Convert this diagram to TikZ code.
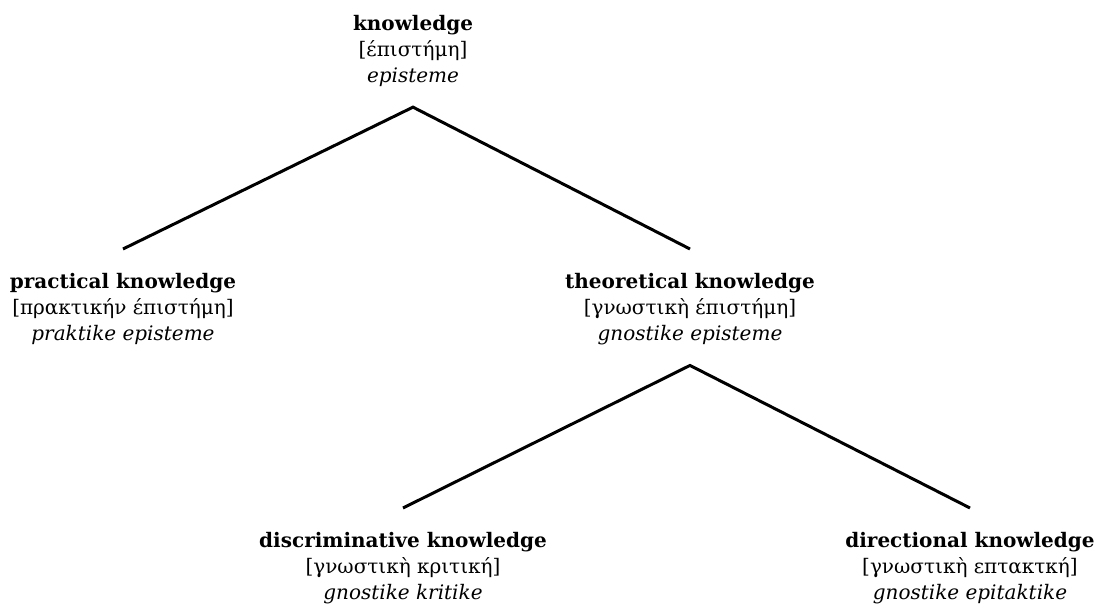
\documentclass[tikz,border=0pt]{standalone}
\usepackage{fontspec}
\setmainfont{DejaVu Serif}
\usetikzlibrary{positioning}

\begin{document}
\begin{tikzpicture}[x=0.5pt, y=-0.5pt,
  term/.style={align=center, anchor=north, inner sep=0pt, font=\fontsize{10}{13}\selectfont},
  branch/.style={line width=1.5pt, line join=miter}]
  \useasboundingbox (0,0) rectangle (1100,610);
  % the three levels
  \node[term] (root) at (413,15) {\textbf{knowledge}\\{[έπιστήμη]}\\\textit{episteme}};
  \node[term] (prac) at (123,273) {\textbf{practical knowledge}\\{[πρακτικήν έπιστήμη]}\\\textit{praktike episteme}};
  \node[term] (theo) at (690,273) {\textbf{theoretical knowledge}\\{[γνωστικὴ έπιστήμη]}\\\textit{gnostike episteme}};
  \node[term] (disc) at (403,532) {\textbf{discriminative knowledge}\\{[γνωστικὴ κριτική]}\\\textit{gnostike kritike}};
  \node[term] (dir) at (970,532) {\textbf{directional knowledge}\\{[γνωστικὴ επτακτκή]}\\\textit{gnostike epitaktike}};
  % branches
  \draw[branch] ([yshift=12pt]prac.north) -- ([yshift=-10pt]root.south) -- ([yshift=12pt]theo.north);
  \draw[branch] ([yshift=12pt]disc.north) -- ([yshift=-10pt]theo.south) -- ([yshift=12pt]dir.north);
\end{tikzpicture}
\end{document}
